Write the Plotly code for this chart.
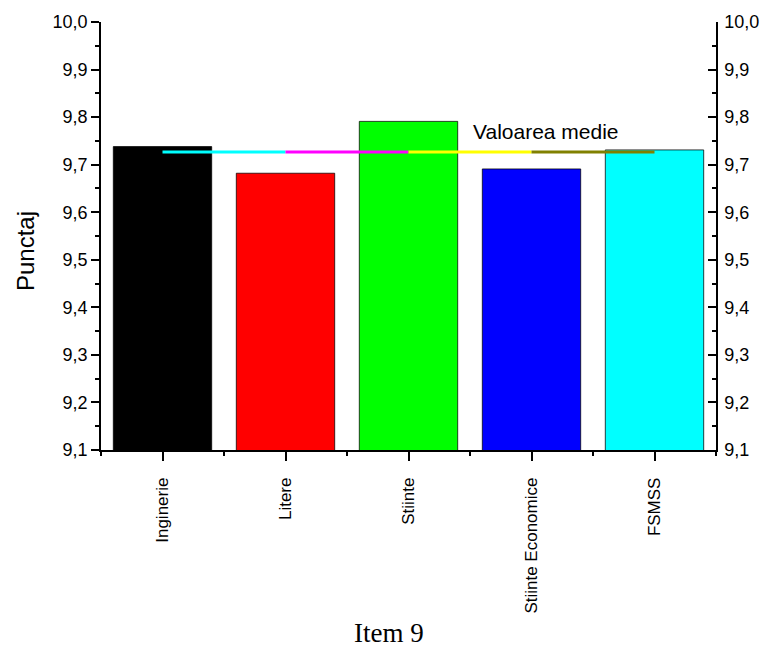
import plotly.graph_objects as go
import numpy as np

# ---- data ----
categories = ["Inginerie", "Litere", "Stiinte", "Stiinte Economice", "FSMSS"]
scores = [9.738, 9.682, 9.791, 9.691, 9.731]
bar_colors = ["#000000", "#FF0000", "#00FF00", "#0000FF", "#00FFFF"]
mean_segment_colors = ["#00FFFF", "#FF00FF", "#FFFF00", "#808000"]
y_tick_values = [9.1, 9.2, 9.3, 9.4, 9.5, 9.6, 9.7, 9.8, 9.9, 10.0]

mean_value = float(np.mean(scores))
x_pos = list(range(len(categories)))

fig = go.Figure()
fig.add_trace(go.Bar(
    x=x_pos, y=scores, width=0.8,
    marker=dict(color=bar_colors, line=dict(color="rgba(0,0,0,0.75)", width=1)),
    showlegend=False, hoverinfo="x+y",
))
for i, col in enumerate(mean_segment_colors):
    fig.add_trace(go.Scatter(
        x=[x_pos[i], x_pos[i + 1]], y=[mean_value, mean_value],
        mode="lines", line=dict(color=col, width=3), showlegend=False,
    ))
# helper trace so the right axis is drawn
fig.add_trace(go.Scatter(x=[x_pos[0]], y=[y_tick_values[0]], yaxis="y2",
                         mode="markers", marker=dict(opacity=0), showlegend=False,
                         hoverinfo="skip"))

font_sans = "Liberation Sans, Arial, sans-serif"
axis_common = dict(showgrid=False, zeroline=False, showline=True,
                   linecolor="black", linewidth=1.5)

fig.update_layout(
    width=771, height=650,
    margin=dict(l=101, r=49, t=21, b=200),
    paper_bgcolor="white", plot_bgcolor="white",
    separators=",.",
    font=dict(family=font_sans, color="black", size=18),
    xaxis=dict(
        **axis_common,
        range=[-0.5, 4.5],
        tickmode="array", tickvals=x_pos, ticktext=categories,
        tickangle=-90, ticks="outside", ticklen=9, tickwidth=1.5, tickcolor="black",
        tickfont=dict(size=17, family=font_sans),
        ticklabelstandoff=10,
        minor=dict(tickmode="linear", tick0=0.5, dtick=1, ticks="outside",
                   ticklen=4, tickwidth=1.5, tickcolor="black"),
    ),
    yaxis=dict(
        **axis_common,
        range=[9.1, 10.0],
        tickmode="array", tickvals=y_tick_values, tickformat=".1f",
        ticks="outside", ticklen=8, tickwidth=1.5, tickcolor="black",
        tickfont=dict(size=18, family=font_sans),
        minor=dict(tickmode="linear", tick0=9.1, dtick=0.05, ticks="outside",
                   ticklen=4, tickwidth=1.5, tickcolor="black"),
    ),
    yaxis2=dict(
        **axis_common,
        overlaying="y", side="right", anchor="x",
        range=[9.1, 10.0],
        tickmode="array", tickvals=y_tick_values, tickformat=".1f",
        ticks="inside", ticklen=8, tickwidth=1.5, tickcolor="black",
        tickfont=dict(size=18, family=font_sans),
        ticklabelstandoff=3,
        minor=dict(tickmode="linear", tick0=9.1, dtick=0.05, ticks="inside",
                   ticklen=4, tickwidth=1.5, tickcolor="black"),
    ),
    annotations=[
        dict(text="Valoarea medie", xref="paper", yref="paper",
             x=(549.7 - 101) / 620, y=(450 - 131) / 429,
             showarrow=False, font=dict(size=21, family=font_sans),
             xanchor="center", yanchor="middle"),
        dict(text="Punctaj", xref="paper", yref="paper",
             x=(25 - 101) / 620, y=(450 - 251) / 429, textangle=-90,
             showarrow=False, font=dict(size=24, family=font_sans),
             xanchor="center", yanchor="middle"),
        dict(text="Item 9", xref="paper", yref="paper",
             x=(391 - 101) / 620, y=(450 - 633) / 429,
             showarrow=False, font=dict(size=27, family="Liberation Serif, Times New Roman, serif"),
             xanchor="center", yanchor="middle"),
    ],
)

fig.write_html("out.html", config={"displayModeBar": False},
               post_script="document.body.style.margin='0';")
